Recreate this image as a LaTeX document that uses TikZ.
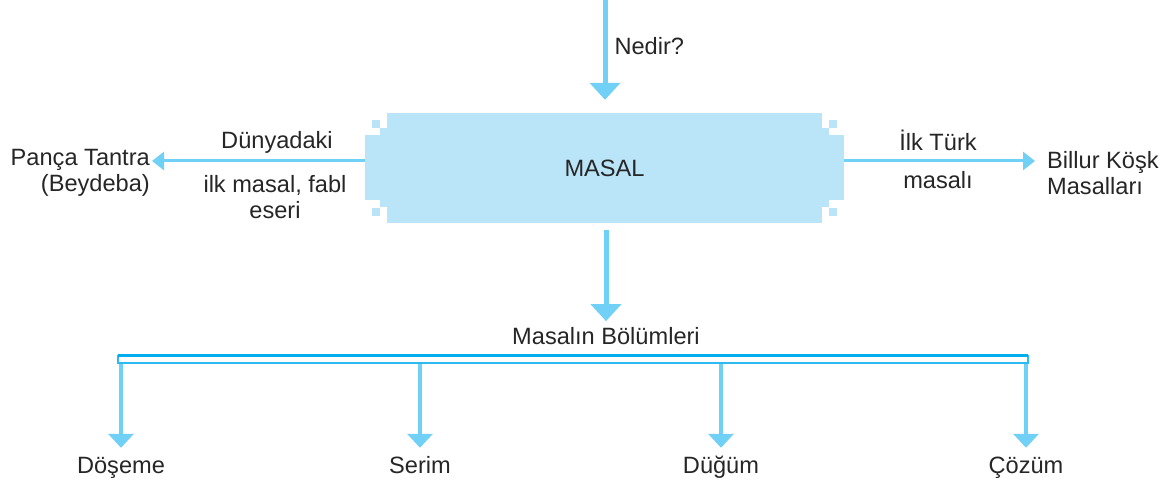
\documentclass[tikz,border=0pt]{standalone}
\usepackage{fontspec}
\setmainfont{Liberation Sans}
\usepackage{tikz}
\usetikzlibrary{arrows.meta,positioning}

\definecolor{okmavi}{RGB}{112,208,245}
\definecolor{kutumavi}{RGB}{186,228,248}
\definecolor{koyumavi}{RGB}{0,174,239}
\definecolor{cizgimavi}{RGB}{45,186,240}

\tikzset{
  yazi/.style={font=\fontsize{23.6}{26}\selectfont, text=black!85, inner sep=2pt},
  kutu/.style={fill=kutumavi, minimum width=435pt, minimum height=110pt, inner sep=0pt},
  dikok/.style={okmavi, line width=5pt, -{Triangle[width=30pt,length=17pt]}},
  yanok/.style={okmavi, line width=3pt, -{Triangle[width=18pt,length=12pt]}},
  altok/.style={okmavi, line width=4pt, -{Triangle[width=25pt,length=14pt]}}
}

\begin{document}
\begin{tikzpicture}[x=1pt,y=-1pt]
  \useasboundingbox (0,0) rectangle (1171,486);

  % masal kutusu
  \node[kutu, yazi] (masal) at (604.5,168) {MASAL};
  \fill[kutumavi] (365,135) rectangle (388,200);
  \fill[kutumavi] (380,128) rectangle (388,207);
  \fill[kutumavi] (372,120) rectangle (380,128);
  \fill[kutumavi] (372,208) rectangle (380,216);
  \fill[kutumavi] (821,135) rectangle (844,200);
  \fill[kutumavi] (821,128) rectangle (829,207);
  \fill[kutumavi] (829,120) rectangle (837,128);
  \fill[kutumavi] (829,208) rectangle (837,216);
  \coordinate (masalW) at (365,161);
  \coordinate (masalE) at (844,161);

  % ustteki ok
  \coordinate (ust) at (605,0);
  \draw[dikok, shorten >=13pt] (ust) -- (ust |- masal.north)
    node[yazi, right, pos=0.41, xshift=5pt] {Nedir?};

  % sol
  \node[yazi, align=right, anchor=east] (panca) at (152,173) {Pança Tantra\\(Beydeba)};
  \draw[yanok] (masalW) -- (masalW -| panca.east);
  \node[yazi] (dunya) at (277,142) {Dünyadaki};
  \node[yazi, align=center] (ilk) at (275,197) {ilk masal, fabl\\eseri};

  % sag
  \node[yazi, align=left, anchor=west] (billur) at (1045,173) {Billur Köşk\\Masalları};
  \draw[yanok, shorten >=10pt] (masalE) -- (masalE -| billur.west);
  \node[yazi] (turk) at (938,140) {İlk Türk};
  \node[yazi] (masali) at (938,180) {masalı};

  % bolumler
  \node[yazi] (bolum) at (606,336) {Masalın Bölümleri};
  \draw[dikok, shorten <=7pt, shorten >=4pt] (masal.south -| bolum) -- (bolum.north);

  \draw[cizgimavi, line width=2.5pt] (118,356) rectangle (1028,363);
  \draw[koyumavi, line width=3pt] (118,356) -- (1028,356);

  \foreach \x/\ad/\isim in {121/Döşeme/doseme, 420/Serim/serim, 721/Düğüm/dugum, 1026/Çözüm/cozum} {
    \coordinate (c\isim) at (\x,364.5);
    \node[yazi, text height=17pt, text depth=5pt] (\isim) at (\x,468) {\ad};
    \draw[altok, shorten >=7pt] (c\isim) -- (c\isim |- \isim.north);
  }
\end{tikzpicture}
\end{document}
